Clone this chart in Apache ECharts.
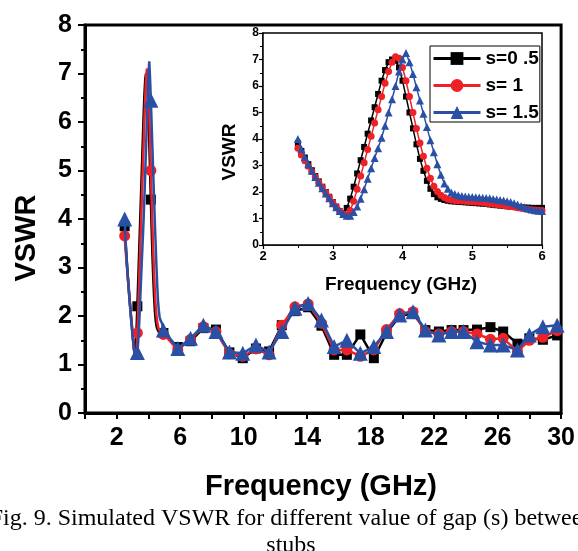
<!DOCTYPE html>
<html>
<head>
<meta charset="utf-8">
<script src="https://cdn.jsdelivr.net/npm/echarts@6/dist/echarts.min.js"></script>
<style>
html,body{margin:0;padding:0;background:#fff;}
#chart{width:578px;height:551px;}
</style>
</head>
<body>
<div id="chart"></div>
<script>
// ---------- data ----------
var seriesNames = ['s=0 .5', 's= 1', 's= 1.5'];

// inset: frequency grid (GHz)
var insetFreq = [2.50,2.55,2.60,2.65,2.70,2.75,2.80,2.85,2.90,2.95,
  3.00,3.05,3.10,3.15,3.20,3.25,3.30,3.35,3.40,3.45,
  3.50,3.55,3.60,3.65,3.70,3.75,3.80,3.85,3.90,3.95,
  4.00,4.05,4.10,4.15,4.20,4.25,4.30,4.35,4.40,4.45,
  4.50,4.55,4.60,4.65,4.70,4.75,4.80,4.85,4.90,4.95,
  5.00,5.05,5.10,5.15,5.20,5.25,5.30,5.35,5.40,5.45,
  5.50,5.55,5.60,5.65,5.70,5.75,5.80,5.85,5.90,5.95,6.00];

var insetS05 = [3.85,3.55,3.30,3.05,2.82,2.60,2.40,2.20,2.00,1.82,
  1.62,1.45,1.28,1.20,1.40,1.75,2.20,2.70,3.20,3.70,
  4.20,4.70,5.20,5.70,6.20,6.60,6.90,7.00,6.95,6.70,
  6.20,5.60,5.00,4.40,3.80,3.25,2.80,2.42,2.12,1.92,
  1.80,1.74,1.70,1.67,1.65,1.64,1.63,1.62,1.61,1.60,
  1.59,1.58,1.57,1.56,1.55,1.53,1.52,1.50,1.49,1.47,
  1.46,1.45,1.44,1.43,1.42,1.41,1.41,1.40,1.40,1.40,1.40];

var insetS1 = [3.65,3.40,3.18,2.97,2.77,2.57,2.37,2.18,1.98,1.80,
  1.60,1.43,1.28,1.17,1.12,1.30,1.65,2.10,2.60,3.10,
  3.60,4.10,4.60,5.10,5.60,6.10,6.55,6.90,7.10,7.05,
  6.70,6.20,5.60,5.00,4.40,3.85,3.35,2.90,2.52,2.22,
  2.02,1.88,1.79,1.73,1.70,1.68,1.67,1.66,1.65,1.64,
  1.63,1.62,1.61,1.60,1.58,1.57,1.55,1.53,1.51,1.49,
  1.47,1.45,1.43,1.41,1.39,1.37,1.35,1.33,1.32,1.31,1.30];

var insetS15 = [4.00,3.62,3.32,3.05,2.80,2.57,2.35,2.14,1.94,1.76,
  1.58,1.42,1.28,1.17,1.10,1.10,1.25,1.45,1.75,2.10,
  2.50,2.90,3.28,3.65,4.05,4.50,5.00,5.50,6.00,6.55,
  7.00,7.25,6.90,6.45,5.95,5.45,4.95,4.45,3.95,3.50,
  3.05,2.65,2.32,2.12,1.98,1.92,1.88,1.85,1.83,1.82,
  1.81,1.80,1.79,1.78,1.77,1.76,1.74,1.72,1.70,1.68,
  1.65,1.62,1.58,1.53,1.47,1.42,1.38,1.34,1.31,1.29,1.28];

// main chart: early marker frequencies (on the dense curve)
var mainEarlyMarks = [2.50, 3.30, 4.15];
// main chart: later sampled points with markers
var mainFreq = [4.94,5.85,6.65,7.46,8.25,9.10,9.94,10.77,11.60,12.40,
  13.23,14.06,14.90,15.70,16.50,17.35,18.20,19.00,19.83,20.67,
  21.45,22.30,23.10,23.85,24.70,25.55,26.35,27.25,28.00,28.85,29.75];
var mainS05 = [1.65,1.36,1.48,1.75,1.72,1.25,1.13,1.33,1.27,1.81,
  2.10,2.18,1.80,1.20,1.20,1.62,1.13,1.65,2.00,2.05,
  1.71,1.68,1.71,1.71,1.72,1.77,1.68,1.43,1.54,1.51,1.60];
var mainS1 = [1.62,1.30,1.52,1.78,1.68,1.22,1.17,1.32,1.20,1.81,
  2.19,2.25,1.85,1.30,1.30,1.17,1.30,1.72,2.05,2.09,
  1.68,1.63,1.68,1.68,1.63,1.52,1.54,1.27,1.50,1.56,1.70];
var mainS15 = [1.71,1.33,1.54,1.81,1.68,1.26,1.23,1.40,1.26,1.68,
  2.16,2.26,1.92,1.37,1.50,1.23,1.37,1.68,2.02,2.09,
  1.71,1.61,1.68,1.68,1.47,1.40,1.40,1.30,1.61,1.78,1.81];

var mainXTicks = [2, 6, 10, 14, 18, 22, 26, 30];

// ---------- styles ----------
var colors = ['#000000', '#ee2127', '#2a50a6'];
var symbols = ['rect', 'circle', 'triangle'];
var mainSym = [10, 11, 15];
var insetSym = [6, 7, 8];
var FONT = 'Liberation Sans, Arial, sans-serif';

function buildMain(insetVals, lateVals) {
  var out = [];
  for (var i = 0; i < insetFreq.length; i++) {
    if (insetFreq[i] > 4.9) break;
    var marked = mainEarlyMarks.indexOf(insetFreq[i]) >= 0;
    var item = { value: [insetFreq[i], insetVals[i]] };
    if (!marked) item.symbol = 'none';
    out.push(item);
  }
  for (var j = 0; j < mainFreq.length; j++) {
    out.push({ value: [mainFreq[j], lateVals[j]] });
  }
  return out;
}
function zip(xs, ys) {
  return xs.map(function (x, i) { return [x, ys[i]]; });
}

var insetVals = [insetS05, insetS1, insetS15];
var mainVals = [mainS05, mainS1, mainS15];

var series = [];
for (var k = 0; k < 3; k++) {
  series.push({
    name: seriesNames[k], type: 'line', xAxisIndex: 1, yAxisIndex: 1,
    data: zip(insetFreq, insetVals[k]),
    symbol: symbols[k], symbolSize: insetSym[k], showAllSymbol: true,
    lineStyle: { color: colors[k], width: 1.5 },
    itemStyle: { color: colors[k] }, z: 5 + k, animation: false
  });
}
for (var m = 0; m < 3; m++) {
  series.push({
    name: seriesNames[m], type: 'line', xAxisIndex: 0, yAxisIndex: 0,
    data: buildMain(insetVals[m], mainVals[m]),
    symbol: symbols[m], symbolSize: mainSym[m], showAllSymbol: true,
    lineStyle: { color: colors[m], width: 2.5 },
    itemStyle: { color: colors[m] }, z: 2 + m, animation: false
  });
}

var labelBold = function (size) {
  return { color: '#000', fontFamily: FONT, fontWeight: 'bold', fontSize: size };
};

var option = {
  animation: false,
  backgroundColor: '#fff',
  grid: [
    { left: 85, top: 25, width: 477, height: 388, show: true, borderColor: '#000', borderWidth: 3, backgroundColor: 'transparent' },
    { left: 263, top: 33, width: 279, height: 212, show: true, borderColor: '#000', borderWidth: 1.5, backgroundColor: '#fff', z: 3 }
  ],
  xAxis: [
    {
      type: 'value', gridIndex: 0, min: 0, max: 30, interval: 2,
      axisLine: { show: true, onZero: false, lineStyle: { color: '#000', width: 3 } },
      axisTick: { show: true, length: 6, lineStyle: { color: '#000', width: 2 } },
      axisLabel: Object.assign(labelBold(25), {
        margin: 13,
        formatter: function (v) { return mainXTicks.indexOf(v) >= 0 ? String(v) : ''; }
      }),
      splitLine: { show: false }
    },
    {
      type: 'value', gridIndex: 1, min: 2, max: 6, interval: 1,
      axisLine: { show: true, onZero: false, lineStyle: { color: '#000', width: 1.5 } },
      axisTick: { show: true, length: 4, lineStyle: { color: '#000', width: 1.2 } },
      minorTick: { show: true, splitNumber: 2, length: 3, lineStyle: { color: '#000', width: 1 } },
      axisLabel: Object.assign(labelBold(13), { margin: 5 }),
      splitLine: { show: false }
    }
  ],
  yAxis: [
    {
      type: 'value', gridIndex: 0, min: 0, max: 8, interval: 1,
      axisLine: { show: true, onZero: false, lineStyle: { color: '#000', width: 3 } },
      axisTick: { show: true, length: 7, lineStyle: { color: '#000', width: 2 } },
      minorTick: { show: true, splitNumber: 2, length: 4, lineStyle: { color: '#000', width: 2 } },
      axisLabel: Object.assign(labelBold(25), { margin: 13 }),
      splitLine: { show: false }
    },
    {
      type: 'value', gridIndex: 1, min: 0, max: 8, interval: 1,
      axisLine: { show: true, onZero: false, lineStyle: { color: '#000', width: 1.5 } },
      axisTick: { show: true, length: 4, lineStyle: { color: '#000', width: 1.2 } },
      minorTick: { show: true, splitNumber: 2, length: 3, lineStyle: { color: '#000', width: 1 } },
      axisLabel: Object.assign(labelBold(12), { margin: 4 }),
      splitLine: { show: false }
    }
  ],
  legend: {
    data: seriesNames, orient: 'vertical', left: 430, top: 46,
    itemWidth: 47, itemHeight: 16, itemGap: 8,
    padding: [3, 1, 0, 2],
    borderColor: '#000', borderWidth: 1, backgroundColor: '#fff',
    selectedMode: false,
    lineStyle: { width: 3 },
    textStyle: Object.assign(labelBold(19), { padding: [0, 0, 0, 0] }),
    z: 10
  },
  graphic: [
    { type: 'text', x: 27, y: 238, rotation: Math.PI / 2,
      style: { text: 'VSWR', font: 'bold 29px ' + FONT, fill: '#000', align: 'center', verticalAlign: 'middle' } },
    { type: 'text', x: 321, y: 487,
      style: { text: 'Frequency (GHz)', font: 'bold 29px ' + FONT, fill: '#000', align: 'center', verticalAlign: 'middle' } },
    { type: 'text', x: 230, y: 152, rotation: Math.PI / 2, z: 20,
      style: { text: 'VSWR', font: 'bold 19px ' + FONT, fill: '#000', align: 'center', verticalAlign: 'middle' } },
    { type: 'text', x: 401, y: 285, z: 20,
      style: { text: 'Frequency (GHz)', font: 'bold 19px ' + FONT, fill: '#000', align: 'center', verticalAlign: 'middle' } },
    { type: 'text', x: 292, y: 519,
      style: { text: 'Fig. 9. Simulated VSWR for different value of gap (s) between', font: '24px Liberation Serif, Times New Roman, serif', fill: '#000', align: 'center', verticalAlign: 'middle' } },
    { type: 'text', x: 291, y: 546,
      style: { text: 'stubs', font: '24px Liberation Serif, Times New Roman, serif', fill: '#000', align: 'center', verticalAlign: 'middle' } }
  ],
  series: series
};

var chart = echarts.init(document.getElementById('chart'), null, { renderer: 'canvas' });
chart.setOption(option);
</script>
</body>
</html>
